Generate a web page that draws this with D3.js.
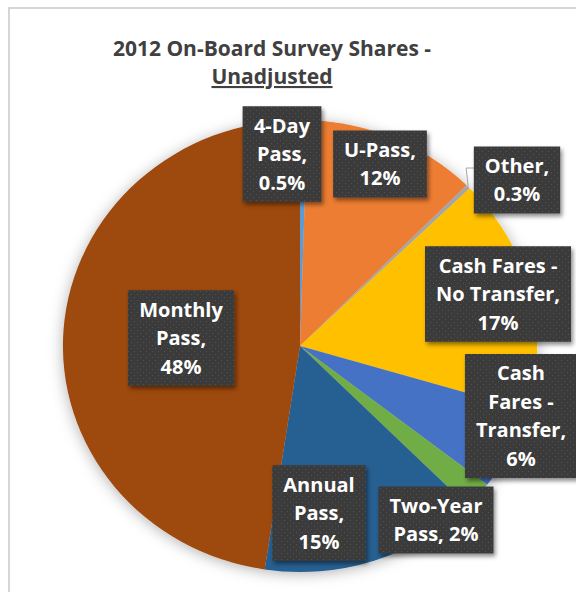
<!DOCTYPE html>
<html>
<head>
<meta charset="utf-8">
<script src="https://cdn.jsdelivr.net/npm/d3@7"></script>
<style>
  body { margin: 0; background: #fff; }
  svg { display: block; }
</style>
</head>
<body>
<svg id="chart"></svg>
<script>
// data (clockwise from 12 o'clock)
var categories = ["4-Day Pass", "U-Pass", "Other", "Cash Fares - No Transfer",
  "Cash Fares - Transfer", "Two-Year Pass", "Annual Pass", "Monthly Pass"];
var shares = [0.5, 12, 0.3, 17, 6, 2, 15, 48];
var labelLines = [
  ["4-Day", "Pass,", "0.5%"],
  ["U-Pass,", "12%"],
  ["Other,", "0.3%"],
  ["Cash Fares -", "No Transfer,", "17%"],
  ["Cash", "Fares -", "Transfer,", "6%"],
  ["Two-Year", "Pass, 2%"],
  ["Annual", "Pass,", "15%"],
  ["Monthly", "Pass,", "48%"]
];

// basic settings
var width = 576, height = 592;
var cx = 300, cy = 346, radius = 226, stretchX = 1.049;
var colors = ["#5B9BD5", "#ED7D31", "#A5A5A5", "#FFC000", "#4472C4", "#70AD47", "#255E91", "#9E480E"];
var lineH = 28.5, padX = 11, padY = 5;
// label box centres (Excel "best fit" placement)
var labelPos = [[282, 154], [380, 164], [517, 180], [498, 294], [521, 416], [436, 520], [319, 513], [181, 338]];

var svg = d3.select("#chart")
  .attr("width", width)
  .attr("height", height)
  .style("font-family", "'Open Sans', Lato, sans-serif");

var defs = svg.append("defs");

var pieShadow = defs.append("filter").attr("id", "pieShadow")
  .attr("x", "-20%").attr("y", "-20%").attr("width", "140%").attr("height", "140%");
pieShadow.append("feDropShadow")
  .attr("dx", 0).attr("dy", 2).attr("stdDeviation", 7)
  .attr("flood-color", "#000").attr("flood-opacity", 0.3);

var boxShadow = defs.append("filter").attr("id", "boxShadow")
  .attr("x", "-20%").attr("y", "-20%").attr("width", "140%").attr("height", "140%");
boxShadow.append("feDropShadow")
  .attr("dx", 2).attr("dy", 3).attr("stdDeviation", 2)
  .attr("flood-color", "#000").attr("flood-opacity", 0.45);

var dots = defs.append("pattern").attr("id", "dots")
  .attr("patternUnits", "userSpaceOnUse")
  .attr("width", 6).attr("height", 6);
dots.append("rect").attr("width", 6).attr("height", 6).attr("fill", "#3b3b3b");
dots.append("rect").attr("x", 1).attr("y", 1).attr("width", 1).attr("height", 1).attr("fill", "#525252");
dots.append("rect").attr("x", 4).attr("y", 4).attr("width", 1).attr("height", 1).attr("fill", "#525252");

// chart frame
svg.append("path")
  .attr("d", "M9," + height + "V8H" + width)
  .attr("fill", "none")
  .attr("stroke", "#c9c9c9")
  .attr("stroke-width", 1.5);

// title
var title = svg.append("text")
  .attr("x", 272)
  .attr("text-anchor", "middle")
  .attr("fill", "#404040")
  .style("font-size", "21px")
  .style("font-weight", "bold");
title.append("tspan").attr("x", 272).attr("y", 56).text("2012 On-Board Survey Shares -");
title.append("tspan").attr("x", 272).attr("y", 84)
  .style("text-decoration", "underline")
  .text("Unadjusted");

// pie
var pie = d3.pie().sort(null).value(function(d) { return d; });
var arcs = pie(shares);
var arc = d3.arc().innerRadius(0).outerRadius(radius);

var pieG = svg.append("g")
  .attr("transform", "translate(" + cx + "," + cy + ") scale(" + stretchX + ",1)")
  .attr("filter", "url(#pieShadow)");

pieG.selectAll("path")
  .data(arcs)
  .enter()
  .append("path")
  .attr("d", arc)
  .attr("fill", function(d, i) { return colors[i]; });

// leader line for the thin "Other" slice
var otherArc = arcs[2];
var midA = (otherArc.startAngle + otherArc.endAngle) / 2;
var edge = [cx + Math.sin(midA) * radius * stretchX, cy - Math.cos(midA) * radius];
var otherPos = labelPos[2];
svg.append("polyline")
  .attr("points", [edge, [edge[0] - 2, otherPos[1] - 12], [otherPos[0] - 40, otherPos[1] - 12]].join(" "))
  .attr("fill", "none")
  .attr("stroke", "#a6a6a6")
  .attr("stroke-width", 1);

// data labels
var labels = svg.selectAll("g.label")
  .data(labelLines)
  .enter()
  .append("g")
  .attr("class", "label")
  .attr("transform", function(d, i) { return "translate(" + labelPos[i] + ")"; });

labels.each(function(lines) {
  var g = d3.select(this);
  var rect = g.append("rect")
    .attr("fill", "url(#dots)")
    .attr("filter", "url(#boxShadow)");
  var t = g.append("text")
    .attr("text-anchor", "middle")
    .attr("fill", "#fff")
    .style("font-size", "20px")
    .style("font-weight", "bold");
  var top = -lines.length * lineH / 2;
  lines.forEach(function(s, k) {
    t.append("tspan")
      .attr("x", 0)
      .attr("y", top + lineH * k + lineH / 2)
      .attr("dy", "0.36em")
      .text(s);
  });
  var w = t.node().getBBox().width + padX * 2;
  var h = lines.length * lineH + padY * 2;
  rect.attr("x", -w / 2).attr("y", -h / 2).attr("width", w).attr("height", h);
});
</script>
</body>
</html>
